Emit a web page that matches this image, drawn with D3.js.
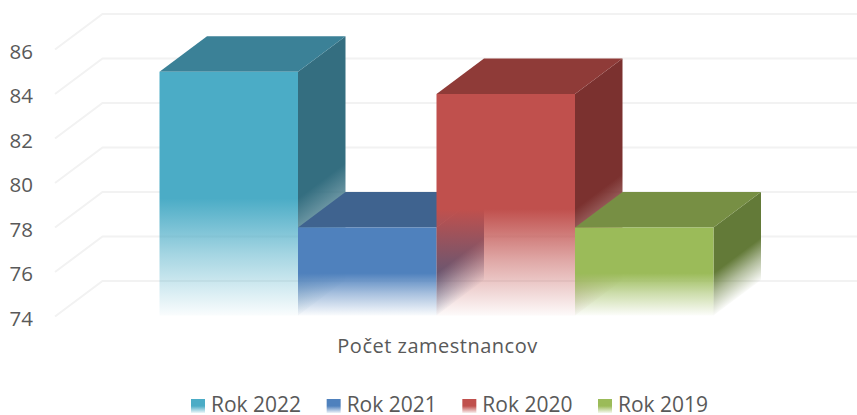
<!DOCTYPE html>
<meta charset="utf-8">
<style>
body { margin: 0; background: #fff; }
svg { display: block; }
text { font-family: "Open Sans", sans-serif; fill: #595959; }
.grid { fill: none; stroke: #f2f2f2; stroke-width: 2; }
</style>
<body>
<div id="chart"></div>
<script src="https://d3js.org/d3.v7.min.js"></script>
<script>
var seriesNames = ["Rok 2022", "Rok 2021", "Rok 2020", "Rok 2019"];
var seriesValues = [85, 78, 84, 78];
var tickValues = [74, 76, 78, 80, 82, 84, 86];
var categoryLabel = "Počet zamestnancov";
var frontColors = ["#4bacc6", "#4f81bd", "#c0504d", "#9bbb59"];
var topColors = ["#3b8197", "#3f638f", "#8f3b38", "#778f44"];
var sideColors = ["#346e80", "#375a85", "#7b312f", "#637a38"];

var width = 857, height = 415;
var depthX = 47.5, depthY = -35.5; // 3d offset of the back wall

var svg = d3.select("#chart").append("svg")
    .attr("width", width)
    .attr("height", height);

var yScale = d3.scaleLinear().domain([74, 86]).range([316.5, 49.5]);
var xScale = d3.scaleBand().domain(seriesNames).range([159.5, 713.5]);
var slope = depthY / depthX;
var defs = svg.append("defs");

// front fade, solid down to the middle of the bar
function addFade(id, color, shear, x0, top, bottom) {
    var g = defs.append("linearGradient")
        .attr("id", id)
        .attr("gradientUnits", "userSpaceOnUse")
        .attr("x1", 0).attr("x2", 0)
        .attr("y1", top).attr("y2", bottom);
    if (shear) g.attr("gradientTransform", "matrix(1," + slope + ",0,1,0," + (-slope * x0) + ")");
    g.append("stop").attr("offset", 0).attr("stop-color", color);
    g.append("stop").attr("offset", 0.52).attr("stop-color", color);
    g.append("stop").attr("offset", 0.75).attr("stop-color", color).attr("stop-opacity", 0.5);
    g.append("stop").attr("offset", 1).attr("stop-color", color).attr("stop-opacity", 0.03);
}

// grid on the wall and the floor
tickValues.forEach(function(t) {
    var y = yScale(t);
    svg.append("path")
        .attr("class", "grid")
        .attr("d", d3.line()([[55, y], [55 + depthX, y + depthY], [width, y + depthY]]));
});

// y axis, labels only
var axis = svg.append("g")
    .attr("transform", "translate(33,2)")
    .call(d3.axisLeft(yScale).tickValues(tickValues).tickSize(0).tickPadding(0));
axis.select(".domain").remove();
axis.selectAll("text").style("font-size", "20.5px").style("font-family", '"Open Sans", sans-serif').attr("fill", "#595959");

// bars, left to right so each one paints over the side of the last
var base = yScale(74) - 1;
seriesNames.forEach(function(name, i) {
    var x0 = xScale(name), x1 = x0 + xScale.bandwidth();
    var y = yScale(seriesValues[i]);
    addFade("front" + i, frontColors[i], false, 0, y, base);
    addFade("side" + i, sideColors[i], true, x1, y, base);

    svg.append("path")
        .attr("fill", "url(#side" + i + ")")
        .attr("d", d3.line()([[x1, y], [x1 + depthX, y + depthY], [x1 + depthX, base + depthY], [x1, base]]) + "Z");
    svg.append("path")
        .attr("fill", topColors[i])
        .attr("d", d3.line()([[x0, y], [x0 + depthX, y + depthY], [x1 + depthX, y + depthY], [x1, y]]) + "Z");
    svg.append("rect")
        .attr("x", x0).attr("y", y)
        .attr("width", xScale.bandwidth()).attr("height", base - y)
        .attr("fill", "url(#front" + i + ")");
});

svg.append("text")
    .attr("x", 437.5).attr("y", 353)
    .attr("text-anchor", "middle")
    .style("font-size", "20px")
    .style("letter-spacing", "0.5px")
    .text(categoryLabel);

// legend
var legendX = d3.scalePoint().domain(seriesNames).range([191, 598]);
seriesNames.forEach(function(name, i) {
    var grad = defs.append("linearGradient")
        .attr("id", "legend" + i)
        .attr("x1", 0).attr("x2", 0).attr("y1", 0).attr("y2", 1);
    grad.append("stop").attr("offset", 0.5).attr("stop-color", frontColors[i]);
    grad.append("stop").attr("offset", 1).attr("stop-color", frontColors[i]).attr("stop-opacity", 0.1);
    svg.append("rect")
        .attr("x", legendX(name)).attr("y", 399)
        .attr("width", 14).attr("height", 14)
        .attr("fill", "url(#legend" + i + ")");
    svg.append("text")
        .attr("x", legendX(name) + 20).attr("y", 412)
        .style("font-size", "21px")
        .text(name);
});
</script>
</body>
